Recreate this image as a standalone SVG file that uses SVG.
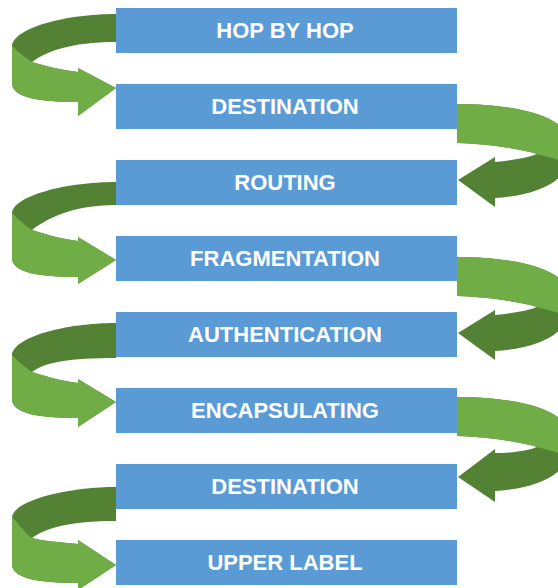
<svg xmlns="http://www.w3.org/2000/svg" width="558" height="588" viewBox="0 0 558 588">
<style>
.bg{fill:#ffffff}
.box{fill:#5B9BD5}
.lbl{fill:#ffffff;font-family:"Liberation Sans",Arial,sans-serif;font-weight:bold;font-size:22px;text-anchor:middle}
.dk{fill:#548235}
.lt{fill:#70AD47}
</style>
<rect class="bg" x="0" y="0" width="558" height="588"/>
<g id="connectors">
  <g id="c1">
    <path class="dk" d="M116,14 C65,14 14,28 12,46 L12,83 C12,95 30,102 78,102 L78,116 L116,88 L78,68 L78,72 C60,70 42,65 32,62 C45,52 70,42 116,42 Z"/>
    <path class="lt" d="M12,46 L12,83 C12,95 30,102 78,102 L78,116 L116,88 L78,68 L78,72 C60,70 42,65 32,62 C26,58 18,52 12,46 Z"/>
  </g>
  <g id="c2">
    <path class="dk" d="M457,104 C505,104 545,112 560,126 C568,136 570,152 566,162 C566,184 530,196 495,198 L495,207 L458,180 L495,157 L495,162 C515,160 530,157 537,154 C520,149 490,144 457,143 Z"/>
    <path class="lt" d="M457,104 C505,104 545,112 560,126 C568,136 570,152 566,162 L537,154 C520,149 490,144 457,143 Z"/>
  </g>
  <g id="c3">
    <path class="dk" d="M116,182 C65,182 14,196 12,213 L12,258 C12,270 30,277 78,277 L78,284 L116,260 L78,237 L78,241 C60,239 42,233 32,230 C45,220 70,205 116,205 Z"/>
    <path class="lt" d="M12,213 L12,258 C12,270 30,277 78,277 L78,284 L116,260 L78,237 L78,241 C60,239 42,233 32,230 C26,226 18,219 12,213 Z"/>
  </g>
  <g id="c4">
    <path class="dk" d="M457,257 C505,257 545,265 560,279 C568,289 570,305 566,315 C566,337 530,349 495,351 L495,360 L458,333 L495,310 L495,315 C515,313 530,310 537,307 C520,302 490,297 457,296 Z"/>
    <path class="lt" d="M457,257 C505,257 545,265 560,279 C568,289 570,305 566,315 L537,307 C520,302 490,297 457,296 Z"/>
  </g>
  <g id="c5">
    <path class="dk" d="M116,323 C65,323 14,337 12,355 L12,399 C12,411 30,418 78,418 L78,427 L116,402 L78,379 L78,383 C60,381 42,375 32,372 C45,362 70,358 116,358 Z"/>
    <path class="lt" d="M12,355 L12,399 C12,411 30,418 78,418 L78,427 L116,402 L78,379 L78,383 C60,381 42,375 32,372 C26,368 18,361 12,355 Z"/>
  </g>
  <g id="c6">
    <path class="dk" d="M457,397 C505,397 545,405 560,419 C568,429 570,445 566,455 C566,477 530,489 495,491 L495,502 L458,477 L495,449 L495,453 C515,453 530,450 537,447 C520,442 490,437 457,436 Z"/>
    <path class="lt" d="M457,397 C505,397 545,405 560,419 C568,429 570,445 566,455 L537,447 C520,442 490,437 457,436 Z"/>
  </g>
  <g id="c7">
    <path class="dk" d="M116,487 C65,487 14,501 12,517 L12,564 C12,576 30,583 78,583 L78,590 L116,565 L78,540 L78,544 C60,542 42,541 32,538 C45,528 70,521 116,521 Z"/>
    <path class="lt" d="M12,517 L12,564 C12,576 30,583 78,583 L78,590 L116,565 L78,540 L78,544 C60,542 42,541 32,538 C26,534 18,523 12,517 Z"/>
  </g>
</g>
<g id="n1"><rect class="box" x="116" y="8" width="341" height="45"/><text class="lbl" x="285" y="38">HOP BY HOP</text></g>
<g id="n2"><rect class="box" x="116" y="84" width="341" height="45"/><text class="lbl" x="285" y="114">DESTINATION</text></g>
<g id="n3"><rect class="box" x="116" y="160" width="341" height="45"/><text class="lbl" x="285" y="190">ROUTING</text></g>
<g id="n4"><rect class="box" x="116" y="236" width="341" height="45"/><text class="lbl" x="285" y="266">FRAGMENTATION</text></g>
<g id="n5"><rect class="box" x="116" y="312" width="341" height="45"/><text class="lbl" x="285" y="342">AUTHENTICATION</text></g>
<g id="n6"><rect class="box" x="116" y="388" width="341" height="45"/><text class="lbl" x="285" y="418">ENCAPSULATING</text></g>
<g id="n7"><rect class="box" x="116" y="464" width="341" height="45"/><text class="lbl" x="285" y="494">DESTINATION</text></g>
<g id="n8"><rect class="box" x="116" y="540" width="341" height="45"/><text class="lbl" x="285" y="570">UPPER LABEL</text></g>
</svg>
